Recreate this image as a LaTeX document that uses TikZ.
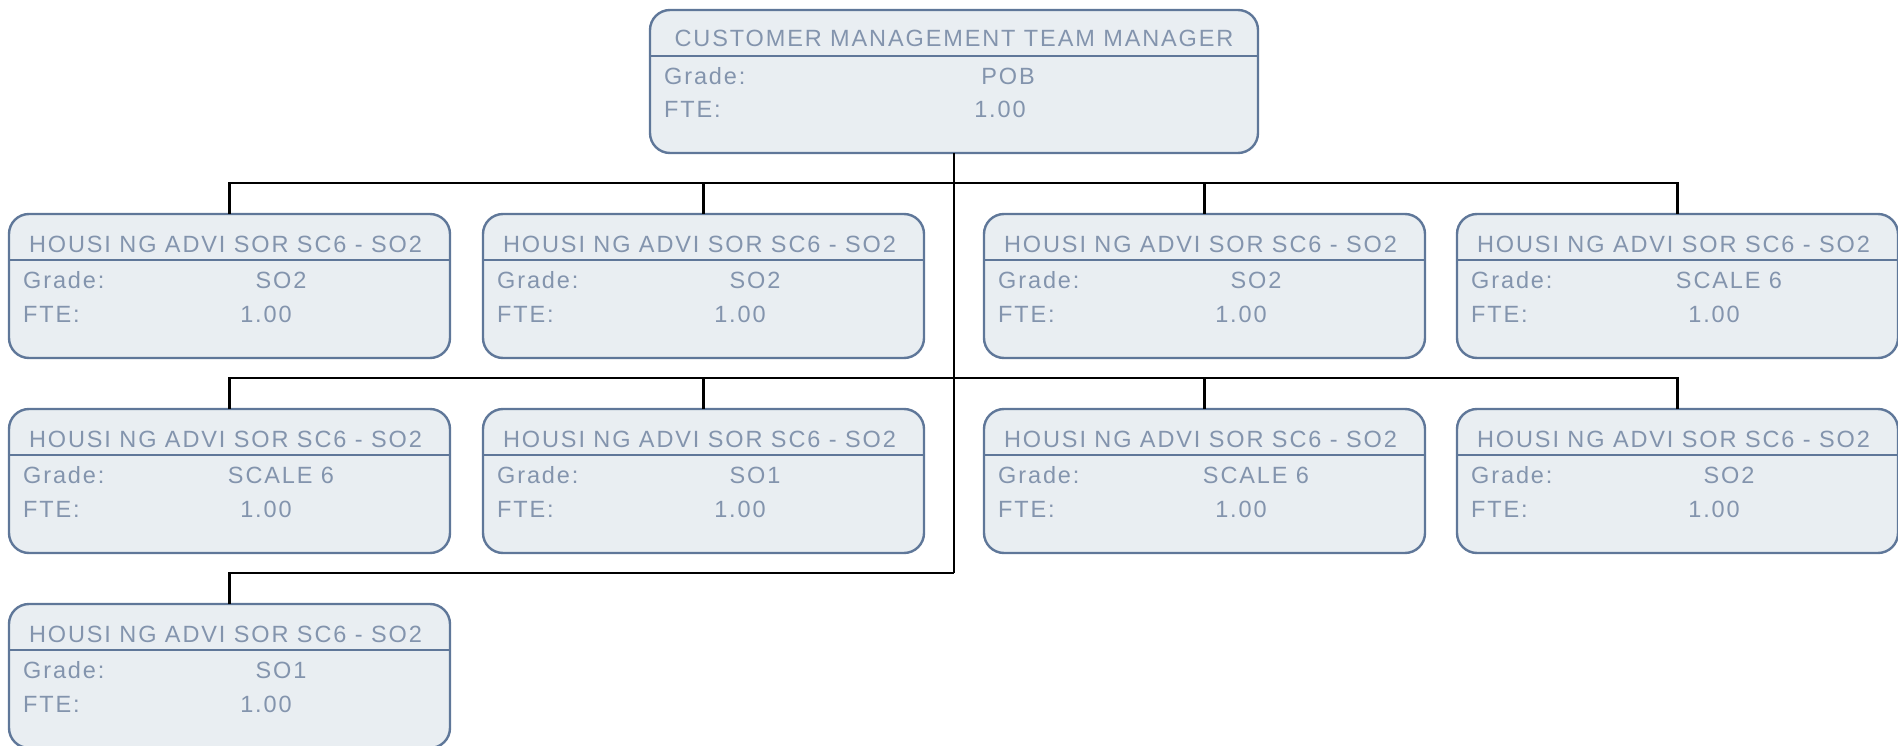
\documentclass[tikz,border=0pt]{standalone}
\usepackage{fontspec}
\newfontfamily\orgfont{Liberation Sans}[LetterSpace=8]
\definecolor{bordercol}{HTML}{5F7799}
\definecolor{fillcol}{HTML}{E9EEF2}
\definecolor{txtcol}{HTML}{8394AD}
\tikzset{
  orgbox/.style={draw=bordercol, line width=2.4pt, fill=fillcol, rounded corners=20pt,
    minimum width=441pt, minimum height=144pt, inner sep=0pt, outer sep=0pt, anchor=north west},
  topbox/.style={orgbox, minimum width=608pt, minimum height=143pt},
  divline/.style={draw=bordercol, line width=2.4pt},
  conn/.style={draw=black, line width=2.7pt},
  lbl/.style={text=txtcol, inner sep=0pt, font=\orgfont\fontsize{23.5}{28}\selectfont}
}
\newcommand\ChildBox[4]{%
  \node[orgbox] (#1) at (#2,#3) {};
  \draw[divline] ([yshift=-46pt]#1.north west) -- ([yshift=-46pt]#1.north east);
  \node[lbl, anchor=base] (#1t) at ([xshift=-4pt,yshift=-38pt]#1.north) {HOUSI NG ADVI SOR SC6 - SO2};
  \node[lbl, anchor=base west] (#1g) at ([xshift=14pt,yshift=-74pt]#1.north west) {Grade:};
  \node[lbl, anchor=base] (#1gv) at ([xshift=272pt,yshift=-74pt]#1.north west) {#4};
  \node[lbl, anchor=base west] (#1f) at ([xshift=14pt,yshift=-108pt]#1.north west) {FTE:};
  \node[lbl, anchor=base] (#1fv) at ([xshift=257pt,yshift=-108pt]#1.north west) {1.00};
}
\begin{document}
\begin{tikzpicture}[x=1pt,y=-1pt]
\useasboundingbox (0,0) rectangle (1898,746);
\coordinate (r1) at (954,183);
\coordinate (r2) at (954,378);
\coordinate (r3) at (954,573);
% top box
\node[topbox] (top) at (650,10) {};
\draw[divline] ([yshift=-46pt]top.north west) -- ([yshift=-46pt]top.north east);
\node[lbl, anchor=base] (topt) at ([yshift=-37pt]top.north) {CUSTOMER MANAGEMENT TEAM MANAGER};
\node[lbl, anchor=base west] (topg) at ([xshift=14pt,yshift=-75pt]top.north west) {Grade:};
\node[lbl, anchor=base] (topgv) at ([xshift=358pt,yshift=-75pt]top.north west) {POB};
\node[lbl, anchor=base west] (topf) at ([xshift=14pt,yshift=-108pt]top.north west) {FTE:};
\node[lbl, anchor=base] (topfv) at ([xshift=350pt,yshift=-108pt]top.north west) {1.00};
% children
\ChildBox{a1}{9}{214}{SO2}
\ChildBox{a2}{483}{214}{SO2}
\ChildBox{a3}{984}{214}{SO2}
\ChildBox{a4}{1457}{214}{SCALE 6}
\ChildBox{b1}{9}{409}{SCALE 6}
\ChildBox{b2}{483}{409}{SO1}
\ChildBox{b3}{984}{409}{SCALE 6}
\ChildBox{b4}{1457}{409}{SO2}
\ChildBox{c1}{9}{604}{SO1}
% connectors
\draw[conn] (top.south) -- (r3);
\foreach \n in {a1,a2,a3,a4} { \draw[conn] (\n.north) |- (r1); }
\foreach \n in {b1,b2,b3,b4} { \draw[conn] (\n.north) |- (r2); }
\draw[conn] (c1.north) |- (r3);
\end{tikzpicture}
\end{document}
